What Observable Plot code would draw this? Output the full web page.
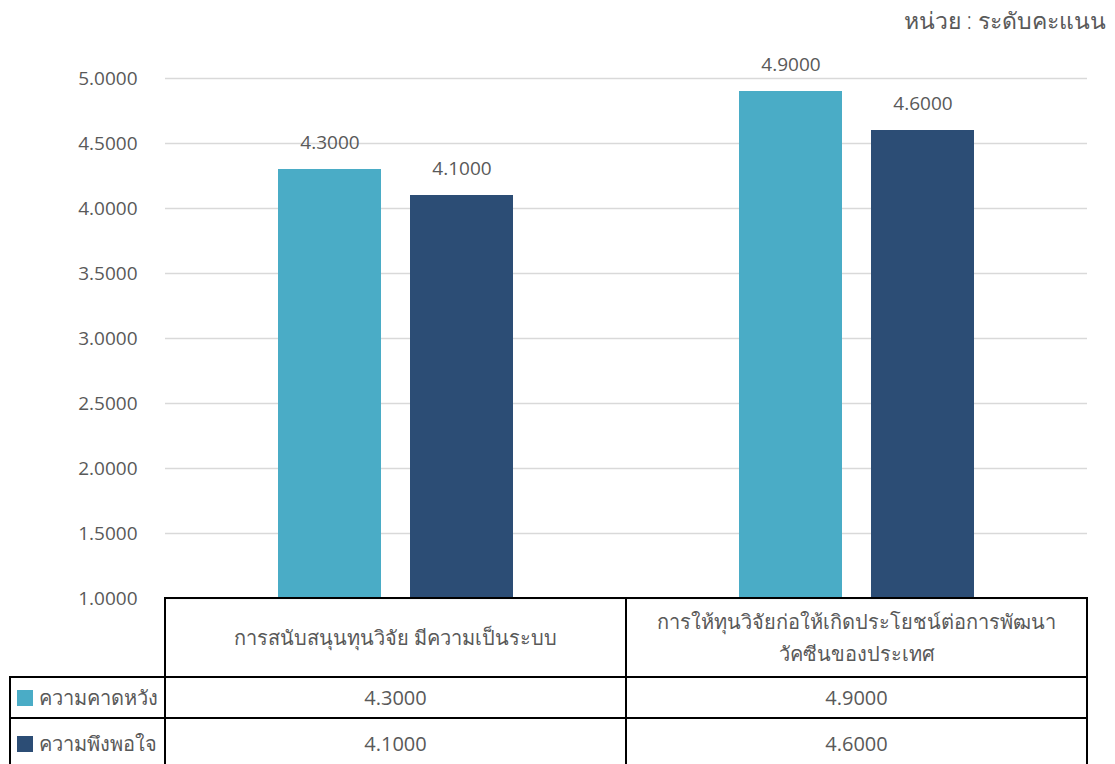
<!DOCTYPE html>
<html><head><meta charset="utf-8">
<script src="https://cdn.jsdelivr.net/npm/d3@7"></script>
<script src="https://cdn.jsdelivr.net/npm/@observablehq/plot@0.6"></script>
<style>
body{margin:0;background:#fff;}
#wrap{position:relative;width:1115px;height:764px;overflow:hidden;font-family:"Open Sans",sans-serif;color:#595959;}
#unit{position:absolute;right:9px;top:3px;font-size:23px;white-space:nowrap;font-weight:300;}
.cell{position:absolute;box-sizing:border-box;border:2px solid #000;display:flex;align-items:center;justify-content:center;text-align:center;font-size:20px;white-space:pre-line;line-height:1.6;}
.th{font-weight:300;}
.lg{justify-content:flex-start;padding-left:6px;}
.sw{display:inline-block;width:16px;height:16px;margin-right:6px;}
</style></head>
<body><div id="wrap"><div id="unit"></div></div>
<script>
const unitLabel = "หน่วย : ระดับคะแนน";
const categories = ["การสนับสนุนทุนวิจัย มีความเป็นระบบ", "การให้ทุนวิจัยก่อให้เกิดประโยชน์ต่อการพัฒนา\nวัคซีนของประเทศ"];
const series = ["ความคาดหวัง", "ความพึงพอใจ"];
const expected = [4.3, 4.9];
const satisfied = [4.1, 4.6];
const colors = ["#4AACC6", "#2C4D75"];
const yTicks = [1, 1.5, 2, 2.5, 3, 3.5, 4, 4.5, 5];

const values = [expected, satisfied];
const rows = [];
series.forEach((s, si) => categories.forEach((c, ci) => rows.push({cat: c, series: s, value: values[si][ci]})));
const fmt = d3.format(".4f");

const wrap = document.getElementById("wrap");
document.getElementById("unit").textContent = unitLabel;

const chart = Plot.plot({
  width: 1115, height: 764,
  marginLeft: 165, marginRight: 28, marginTop: 78, marginBottom: 166,
  style: {fontFamily: "'Open Sans', sans-serif", fontSize: "19px", color: "#595959", background: "transparent"},
  fx: {domain: categories, padding: 0, axis: null, label: null},
  x: {domain: series, paddingInner: 0.22, paddingOuter: 0.856, axis: null, label: null},
  y: {domain: [1, 5], axis: null, label: null},
  color: {domain: series, range: colors},
  marks: [
    Plot.ruleY(yTicks, {stroke: "#d9d9d9", strokeWidth: 1.5}),
    Plot.axisY({fx: categories[0], ticks: yTicks, tickFormat: fmt, tickSize: 0, tickPadding: 28, fill: "#595959", fontSize: 19, label: null}),
    Plot.barY(rows, {fx: "cat", x: "series", y1: 1, y2: "value", fill: "series"}),
    Plot.text(rows, {fx: "cat", x: "series", y: "value", text: d => fmt(d.value), dy: -27, fill: "#595959", fontSize: 19})
  ]
});
chart.style.position = "absolute";
chart.style.left = "0px";
chart.style.top = "0px";
wrap.appendChild(chart);

const fx = chart.scale("fx");
const y = chart.scale("y");
const top0 = y.apply(1);
const headerH = 79, rowH = 41;
function cell(x0, x1, y0, y1, html, cls) {
  const d = document.createElement("div");
  d.className = "cell" + (cls ? " " + cls : "");
  d.style.left = (x0 - 1) + "px";
  d.style.top = (y0 - 1) + "px";
  d.style.width = (x1 - x0 + 2) + "px";
  d.style.height = (y1 - y0 + 2) + "px";
  if (typeof html === "string") d.textContent = html; else d.appendChild(html);
  wrap.appendChild(d);
}
const left0 = 165, legendLeft = 10;
categories.forEach(c => {
  const xa = fx.apply(c) + left0 - fx.apply(categories[0]);
  cell(xa, xa + fx.bandwidth, top0, top0 + headerH, c, "th");
  series.forEach((s, si) => {
    const y0 = top0 + headerH + si * rowH;
    cell(xa, xa + fx.bandwidth, y0, y0 + rowH + (si === series.length - 1 ? 10 : 0), fmt(values[si][categories.indexOf(c)]));
  });
});
series.forEach((s, si) => {
  const y0 = top0 + headerH + si * rowH;
  const span = document.createElement("span");
  const sw = document.createElement("span");
  sw.className = "sw"; sw.style.background = colors[si];
  span.appendChild(sw);
  span.appendChild(document.createTextNode(s));
  span.style.display = "flex"; span.style.alignItems = "center";
  cell(legendLeft, left0, y0, y0 + rowH + (si === series.length - 1 ? 10 : 0), span, "lg th");
});
</script></body></html>
